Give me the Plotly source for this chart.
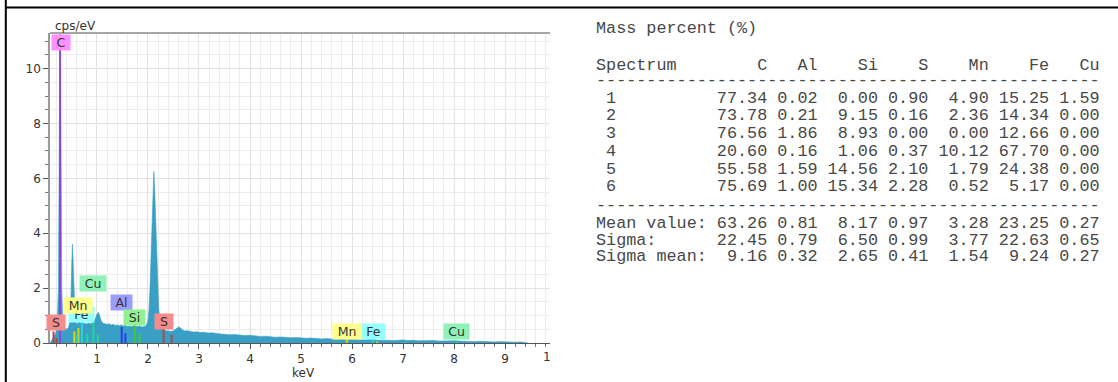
import plotly.graph_objects as go

# ---------------- spectrum (keV, cps/eV) ----------------
energy_keV = [
    0.08, 0.10, 0.13, 0.16, 0.19, 0.22, 0.245, 0.26, 0.27, 0.278, 0.286, 0.295, 0.31, 0.33,
    0.36, 0.40, 0.44, 0.47, 0.49, 0.505, 0.52, 0.535, 0.55, 0.57, 0.59, 0.62, 0.65, 0.68,
    0.71, 0.74, 0.77, 0.80, 0.83, 0.86, 0.90, 0.94, 0.97, 1.00, 1.03, 1.06, 1.09, 1.12,
    1.16, 1.20, 1.24, 1.28, 1.32, 1.36, 1.40, 1.44, 1.48, 1.52, 1.56, 1.60, 1.64, 1.68,
    1.72, 1.76, 1.80, 1.84, 1.88, 1.92, 1.96, 2.00, 2.02, 2.04, 2.06, 2.08, 2.10, 2.115,
    2.13, 2.15, 2.17, 2.19, 2.21, 2.23, 2.26, 2.30, 2.35, 2.40, 2.45, 2.50, 2.55, 2.60,
    2.64, 2.68, 2.72, 2.78, 2.84, 2.90, 2.96, 3.02, 3.10, 3.18, 3.26, 3.34, 3.42, 3.50,
    3.60, 3.70, 3.80, 3.90, 4.00, 4.10, 4.20, 4.30, 4.40, 4.50, 4.60, 4.70, 4.80, 4.90,
    5.00, 5.10, 5.20, 5.30, 5.40, 5.50, 5.60, 5.70, 5.80, 5.90, 6.00, 6.10, 6.20, 6.30,
    6.40, 6.50, 6.60, 6.70, 6.80, 6.90, 7.00, 7.10, 7.20, 7.30, 7.40, 7.50, 7.60, 7.70,
    7.80, 7.90, 8.00, 8.10, 8.20, 8.30, 8.40, 8.50, 8.60, 8.70, 8.80, 8.90, 9.00, 9.10,
    9.20, 9.30, 9.40, 9.45,
]
cps_per_eV = [
    0.00, 0.05, 0.15, 0.25, 0.35, 0.60, 2.0, 6.5, 11.0, 13.0, 11.0, 6.0, 2.0, 0.80,
    0.55, 0.50, 0.55, 0.80, 1.6, 2.8, 3.6, 2.9, 1.7, 0.95, 0.75, 0.70, 0.78, 0.72,
    0.80, 0.70, 0.72, 0.68, 0.74, 0.70, 0.72, 0.78, 0.90, 1.05, 1.12, 0.95, 0.78, 0.72,
    0.70, 0.68, 0.70, 0.66, 0.68, 0.64, 0.66, 0.63, 0.66, 0.62, 0.64, 0.60, 0.62, 0.60,
    0.63, 0.61, 0.60, 0.62, 0.58, 0.60, 0.62, 0.80, 1.2, 2.0, 3.2, 4.6, 5.8, 6.25,
    5.7, 4.5, 3.2, 2.1, 1.3, 0.85, 0.60, 0.50, 0.45, 0.44, 0.42, 0.45, 0.50, 0.58,
    0.55, 0.47, 0.44, 0.45, 0.42, 0.40, 0.41, 0.38, 0.39, 0.36, 0.37, 0.34, 0.33, 0.32,
    0.30, 0.31, 0.28, 0.27, 0.28, 0.25, 0.24, 0.25, 0.22, 0.21, 0.22, 0.20, 0.19, 0.20,
    0.18, 0.17, 0.18, 0.16, 0.15, 0.16, 0.14, 0.13, 0.15, 0.14, 0.12, 0.13, 0.11, 0.12,
    0.13, 0.10, 0.11, 0.10, 0.09, 0.10, 0.11, 0.09, 0.10, 0.08, 0.09, 0.08, 0.09, 0.07,
    0.08, 0.07, 0.08, 0.07, 0.06, 0.06, 0.05, 0.06, 0.05, 0.05, 0.04, 0.05, 0.04, 0.04,
    0.03, 0.04, 0.03, 0.00,
]

# ---------------- element line markers ----------------
marker_elements = ["C", "S", "Mn", "Fe", "Cu", "Al", "Si"]
marker_colors = ["#9040e0", "#b04a4a", "#d8d800", "#20d8e0", "#20d890", "#2040e8", "#40c840"]
marker_keV = {
    "C": [0.277],
    "S": [0.149, 0.21, 2.307, 2.464],
    "Mn": [0.556, 0.637, 5.899, 6.49],
    "Fe": [0.615, 0.705, 6.404, 7.058],
    "Cu": [0.811, 0.93, 1.02, 8.04],
    "Al": [1.486, 1.557],
    "Si": [1.74, 1.835],
}
marker_height = {
    "C": [11.0],
    "S": [0.42, 0.18, 0.52, 0.30],
    "Mn": [0.42, 0.55, 0.15, 0.05],
    "Fe": [0.30, 0.85, 0.12, 0.03],
    "Cu": [0.35, 0.75, 0.30, 0.10],
    "Al": [0.58, 0.36],
    "Si": [0.68, 0.36],
}

# element tag boxes: text, keV, cps/eV, box width (px), fill colour
tag_text = ["C", "S", "Fe", "Mn", "Cu", "Al", "Si", "S", "Mn", "Fe", "Cu"]
tag_keV = [0.29, 0.19, 0.70, 0.633, 0.92, 1.49, 1.745, 2.31, 5.91, 6.42, 8.05]
tag_cps = [10.97, 0.74, 1.03, 1.38, 2.16, 1.47, 0.94, 0.78, 0.42, 0.42, 0.42]
tag_width = [18, 18, 25, 28, 26, 21, 21, 18, 28, 23, 25]
tag_fill = ["#ff90ff", "#f48c8c", "#96ffff", "#ffff8c", "#90f2b8", "#9c9cff",
            "#92f292", "#f48c8c", "#ffff8c", "#96ffff", "#90f2b8"]

# ---------------- mass percent table ----------------
columns = ["C", "Al", "Si", "S", "Mn", "Fe", "Cu"]
spectrum_ids = ["1", "2", "3", "4", "5", "6"]
mass_percent = [
    [77.34, 0.02, 0.00, 0.90, 4.90, 15.25, 1.59],
    [73.78, 0.21, 9.15, 0.16, 2.36, 14.34, 0.00],
    [76.56, 1.86, 8.93, 0.00, 0.00, 12.66, 0.00],
    [20.60, 0.16, 1.06, 0.37, 10.12, 67.70, 0.00],
    [55.58, 1.59, 14.56, 2.10, 1.79, 24.38, 0.00],
    [75.69, 1.00, 15.34, 2.28, 0.52, 5.17, 0.00],
]
summary_names = ["Mean value:", "Sigma:", "Sigma mean:"]
summary_values = [
    [63.26, 0.81, 8.17, 0.97, 3.28, 23.25, 0.27],
    [22.45, 0.79, 6.50, 0.99, 3.77, 22.63, 0.65],
    [9.16, 0.32, 2.65, 0.41, 1.54, 9.24, 0.27],
]
col_width = [5, 4, 5, 4, 5, 5, 4]

# ---------------- geometry ----------------
W, H = 1118, 382
L, R, T, B = 50, 568, 33, 39
PW, PH = W - L - R, H - T - B


def px(x):
    return (x - L) / PW


def py(y):
    return (H - B - y) / PH


fig = go.Figure()

fig.add_trace(go.Scatter(
    x=energy_keV, y=cps_per_eV, mode="lines", fill="tozeroy",
    line=dict(color="#3a9fc4", width=0.6), fillcolor="#3a9fc4",
    hoverinfo="skip", showlegend=False,
))

for el, col in zip(marker_elements, marker_colors):
    xs, ys = [], []
    for e, h in zip(marker_keV[el], marker_height[el]):
        xs += [e, e, None]
        ys += [0, h, None]
    fig.add_trace(go.Scatter(x=xs, y=ys, mode="lines",
                             line=dict(color=col, width=2 if el != "C" else 1.8),
                             hoverinfo="skip", showlegend=False))

annotations = []
for t, ex, ey, bw, bg in zip(tag_text, tag_keV, tag_cps, tag_width, tag_fill):
    annotations.append(dict(
        x=ex, y=ey, xref="x", yref="y", text=t, showarrow=False,
        width=bw, height=15, bgcolor=bg, borderpad=0,
        font=dict(family="DejaVu Sans", size=12.5, color="#333333"),
        xanchor="center", yanchor="middle",
    ))

# axis captions
annotations.append(dict(x=px(75), y=py(26.5), xref="paper", yref="paper", text="cps/eV",
                        showarrow=False, font=dict(family="DejaVu Sans", size=12, color="#333333"),
                        xanchor="center", yanchor="middle"))
annotations.append(dict(x=px(303), y=py(372.5), xref="paper", yref="paper", text="keV",
                        showarrow=False, font=dict(family="DejaVu Sans", size=12, color="#333333"),
                        xanchor="center", yanchor="middle"))
# partly hidden "10" tick label at the right edge
annotations.append(dict(x=px(547), y=py(357), xref="paper", yref="paper", text="1",
                        showarrow=False, font=dict(family="DejaVu Sans", size=12, color="#333333"),
                        xanchor="center", yanchor="middle"))


def fmt_row(label, vals):
    s = label.ljust(12)
    parts = [f"{v:{w}.2f}" for v, w in zip(vals, col_width)]
    return s + " ".join(parts)


header = "Spectrum".ljust(12) + " ".join(c.rjust(w) for c, w in zip(columns, col_width))
dash = "-" * len(header)
table_lines = [("Mass percent (%)", 28.5), (header, 65), (dash, 81)]
row_y = [98.3, 116, 133.5, 151.5, 169, 186]
for sid, vals, yy in zip(spectrum_ids, mass_percent, row_y):
    table_lines.append((fmt_row(" " + sid, vals), yy))
table_lines.append((dash, 205.5))
for name, vals, yy in zip(summary_names, summary_values, [223, 240, 256.7]):
    table_lines.append((fmt_row(name, vals), yy))

for txt, yy in table_lines:
    annotations.append(dict(
        x=px(594), y=py(yy), xref="paper", yref="paper",
        text=txt.replace(" ", "\u00a0"), showarrow=False,
        font=dict(family="Liberation Mono", size=16.8, color="#484848"),
        xanchor="left", yanchor="middle",
    ))

# frame lines of the report panel and the plot top border
shapes = [
    dict(type="line", xref="paper", yref="paper", x0=px(5.8), x1=px(5.8), y0=py(0), y1=py(382),
         line=dict(color="black", width=2)),
    dict(type="line", xref="paper", yref="paper", x0=px(5), x1=px(1118), y0=py(7.5), y1=py(7.5),
         line=dict(color="black", width=2)),
    dict(type="line", xref="paper", yref="paper", x0=0, x1=1, y0=1, y1=1,
         line=dict(color="#a6a6a6", width=2)),
]

fig.update_layout(
    width=W, height=H,
    margin=dict(l=L, r=R, t=T, b=B),
    paper_bgcolor="white", plot_bgcolor="white",
    showlegend=False,
    annotations=annotations,
    shapes=shapes,
    xaxis=dict(
        range=[0.08, 9.88], tick0=0, dtick=1, tickmode="linear",
        showgrid=True, gridcolor="#e2e2e2", gridwidth=1,
        showline=True, linecolor="#555555", linewidth=1,
        ticks="outside", ticklen=5, tickcolor="#555555",
        tickfont=dict(family="DejaVu Sans", size=12, color="#333333"),
        minor=dict(dtick=0.2, tick0=0, showgrid=True, gridcolor="#ececec",
                   ticks="outside", ticklen=3, tickcolor="#777777"),
        zeroline=False, fixedrange=True,
    ),
    yaxis=dict(
        range=[0, 11.3], tick0=0, dtick=2, tickmode="linear",
        showgrid=True, gridcolor="#e2e2e2", gridwidth=1,
        showline=True, linecolor="#9a9a9a", linewidth=1.5,
        ticks="outside", ticklen=5, tickcolor="#555555",
        tickfont=dict(family="DejaVu Sans", size=12, color="#333333"),
        minor=dict(dtick=0.5, tick0=0, showgrid=True, gridcolor="#ececec",
                   ticks="outside", ticklen=3, tickcolor="#777777"),
        zeroline=False, fixedrange=True,
    ),
)

fig.write_html("out.html")
